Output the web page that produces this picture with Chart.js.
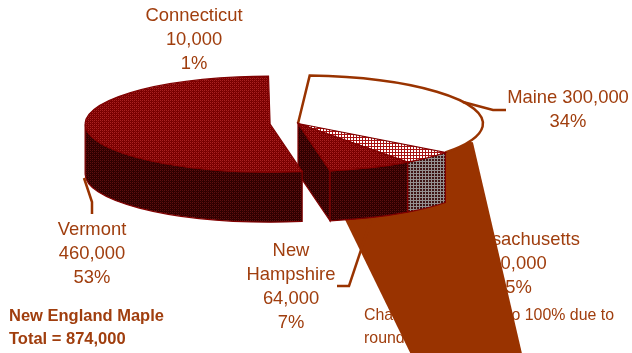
<!DOCTYPE html>
<html>
<head>
<meta charset="utf-8">
<title>New England Maple</title>
<style>
  html, body { margin: 0; padding: 0; background: #fff; }
  #wrap { position: relative; width: 632px; height: 353px; }
</style>
<script src="https://cdn.jsdelivr.net/npm/chart.js@4/dist/chart.umd.js"></script>
</head>
<body>
<div id="wrap"><canvas id="maple" width="632" height="353"></canvas></div>
<script>
// Maple production by state, in the order the slices run clockwise from 12 o'clock.
const states = ['Connecticut', 'Maine', 'Massachusetts', 'New Hampshire', 'Vermont'];
const production = [10000, 300000, 40000, 64000, 460000];
const percentLabels = ['1%', '34%', '5%', '7%', '53%'];
const valueLabels = ['10,000', '300,000', '40,000', '64,000', '460,000'];
const explode = [0, 0, 0, 0, 28];
const footnoteLines = ['Charts may not add to 100% due to', 'rounding.'];
const totalLines = ['New England Maple', 'Total = 874,000'];

const BROWN = '#993300';
const INK = '#a03e0e';
const MAROON = '#800000';
const TILT = 0.2595;       // vertical squash of the pie disc
const DEPTH = 50;          // height of the extruded side walls
const RADIUS = 185;

// Builds a repeating hatch from rows of single-character colour keys.
function hatch(rows, colours) {
  const c = document.createElement('canvas');
  c.width = rows[0].length;
  c.height = rows.length;
  const g = c.getContext('2d');
  rows.forEach((row, y) => [...row].forEach((k, x) => {
    g.fillStyle = colours[k];
    g.fillRect(x, y, 1, 1);
  }));
  return g.createPattern(c, 'repeat');
}

const dotted = { a: '#aa2222', b: '#780000', c: '#8f0a0a' };
const dark = { a: '#5e1010', b: '#2e0000', c: '#420404' };
const topDots = hatch(['abab', 'bcbb', 'abab', 'bbbc'], dotted);
const wallDots = hatch(['abab', 'bcbb', 'abab', 'bbbc'], dark);
const topCheck = hatch(['wwr', 'wwr', 'rrr'], { w: '#ffffff', r: '#a81212' });
const wallCheck = hatch(['ddl', 'ddl', 'lll'], { d: '#3e1414', l: '#959090' });

const topFills = ['#ffffff', '#ffffff', topCheck, topDots, topDots];
const wallFills = [null, null, wallCheck, wallDots, wallDots];

// Traces the slice's top face as an ellipse sector around its exploded centre.
function sector(ctx, s) {
  ctx.beginPath();
  ctx.moveTo(s.x, s.y);
  ctx.ellipse(s.x, s.y, s.r, s.r * TILT, 0, s.a0, s.a1);
  ctx.closePath();
}

// Paints the curved outer wall for the part of the slice facing the viewer.
function outerWall(ctx, s, fill) {
  const from = Math.max(s.a0, 0);
  const to = Math.min(s.a1, Math.PI);
  if (to <= from) return;
  ctx.beginPath();
  ctx.ellipse(s.x, s.y, s.r, s.r * TILT, 0, from, to);
  ctx.ellipse(s.x, s.y + DEPTH, s.r, s.r * TILT, 0, to, from, true);
  ctx.closePath();
  ctx.fillStyle = fill;
  ctx.fill();
  ctx.lineWidth = 1.2;
  ctx.strokeStyle = MAROON;
  ctx.stroke();
}

// Flat wall along the leading radius of a slice.
function cutWall(ctx, s, fill) {
  const ex = s.x + s.r * Math.cos(s.a1);
  const ey = s.y + s.r * TILT * Math.sin(s.a1);
  ctx.beginPath();
  ctx.moveTo(s.x, s.y);
  ctx.lineTo(ex, ey);
  ctx.lineTo(ex, ey + DEPTH);
  ctx.lineTo(s.x, s.y + DEPTH);
  ctx.closePath();
  ctx.fillStyle = fill;
  ctx.fill();
  ctx.lineWidth = 1.2;
  ctx.strokeStyle = MAROON;
  ctx.stroke();
}

function polyline(ctx, pts) {
  ctx.beginPath();
  pts.forEach((p, i) => (i ? ctx.lineTo(p[0], p[1]) : ctx.moveTo(p[0], p[1])));
  ctx.stroke();
}

function drawLabels(ctx) {
  ctx.fillStyle = INK;
  ctx.textBaseline = 'alphabetic';
  ctx.textAlign = 'center';
  ctx.font = '18.4px "Liberation Sans", Arial, sans-serif';
  const block = (x, y, lines) => lines.forEach((t, i) => ctx.fillText(t, x, y + i * 24));
  block(194, 21, [states[0], valueLabels[0], percentLabels[0]]);
  block(568, 103, [states[1] + ' ' + valueLabels[1], percentLabels[1]]);
  block(518.5, 245, [states[2], valueLabels[2], percentLabels[2]]);
  block(291, 256, [...states[3].split(' '), valueLabels[3], percentLabels[3]]);
  block(92, 235, [states[4], valueLabels[4], percentLabels[4]]);

  ctx.textAlign = 'left';
  ctx.font = '15.9px "Liberation Sans", Arial, sans-serif';
  footnoteLines.forEach((t, i) => ctx.fillText(t, 364, 320 + i * 23));
  ctx.font = 'bold 16.5px "Liberation Sans", Arial, sans-serif';
  totalLines.forEach((t, i) => ctx.fillText(t, 9, 321 + i * 22.5));
}

const pie3d = {
  id: 'pie3d',
  beforeDatasetsDraw(chart) {
    const ctx = chart.ctx;
    const slices = chart.getDatasetMeta(0).data.map((arc, i) => {
      const p = arc.getProps(['x', 'y', 'startAngle', 'endAngle', 'outerRadius'], true);
      const mid = (p.startAngle + p.endAngle) / 2;
      return {
        x: p.x + Math.cos(mid) * explode[i],
        y: p.y + Math.sin(mid) * explode[i] * TILT,
        r: p.outerRadius,
        a0: p.startAngle,
        a1: p.endAngle
      };
    });
    const [conn, maine, mass, nh, vt] = slices;

    ctx.save();
    drawLabels(ctx);

    // Maine's wall runs off the bottom of the page in a wide flare.
    const bottom = chart.height;
    const flare = 19 * Math.PI / 180;
    const flareX = maine.x + maine.r * Math.cos(flare);
    const flareY = maine.y + maine.r * TILT * Math.sin(flare) + 3;
    ctx.fillStyle = BROWN;
    ctx.beginPath();
    ctx.moveTo(maine.x, maine.y);
    ctx.lineTo(maine.x + (bottom - maine.y) * 0.489, bottom);
    ctx.lineTo(flareX + (bottom - flareY) * 0.232, bottom);
    ctx.lineTo(flareX, flareY);
    ctx.closePath();
    ctx.fill();

    // Maine's top face: white, outlined in brown apart from its chord.
    sector(ctx, maine);
    ctx.fillStyle = topFills[1];
    ctx.fill();
    ctx.beginPath();
    ctx.moveTo(maine.x, maine.y);
    ctx.ellipse(maine.x, maine.y, maine.r, maine.r * TILT, 0, maine.a0, maine.a1);
    ctx.strokeStyle = BROWN;
    ctx.lineWidth = 2.5;
    ctx.lineJoin = 'miter';
    ctx.stroke();

    // Leader lines from slices out to their labels.
    polyline(ctx, [[463, 102], [493, 110], [506, 110]]);
    polyline(ctx, [[371, 220], [349, 286], [337, 286]]);

    // New Hampshire and Massachusetts.
    cutWall(ctx, nh, wallFills[3]);
    outerWall(ctx, mass, wallFills[2]);
    outerWall(ctx, nh, wallFills[3]);
    [mass, nh].forEach((s, i) => {
      sector(ctx, s);
      ctx.fillStyle = topFills[i + 2];
      ctx.fill();
      ctx.lineWidth = 1.2;
      ctx.strokeStyle = MAROON;
      ctx.stroke();
    });

    // Vermont, pulled out to the left, sits in front of the rest.
    outerWall(ctx, vt, wallFills[4]);
    sector(ctx, vt);
    ctx.fillStyle = topFills[4];
    ctx.fill();
    ctx.lineWidth = 1.2;
    ctx.strokeStyle = MAROON;
    ctx.stroke();

    ctx.strokeStyle = BROWN;
    ctx.lineWidth = 2.5;
    polyline(ctx, [[84, 178], [92, 202], [92, 214]]);
    ctx.restore();
    return false;
  }
};

new Chart(document.getElementById('maple'), {
  type: 'pie',
  data: {
    labels: states,
    datasets: [{ data: production, backgroundColor: topFills, borderWidth: 0 }]
  },
  options: {
    responsive: false,
    animation: false,
    rotation: -0.5,
    radius: RADIUS,
    layout: { padding: { left: 0, top: 0, right: 36, bottom: 106 } },
    events: [],
    plugins: { legend: { display: false }, tooltip: { enabled: false }, title: { display: false } }
  },
  plugins: [pie3d]
});
</script>
</body>
</html>
